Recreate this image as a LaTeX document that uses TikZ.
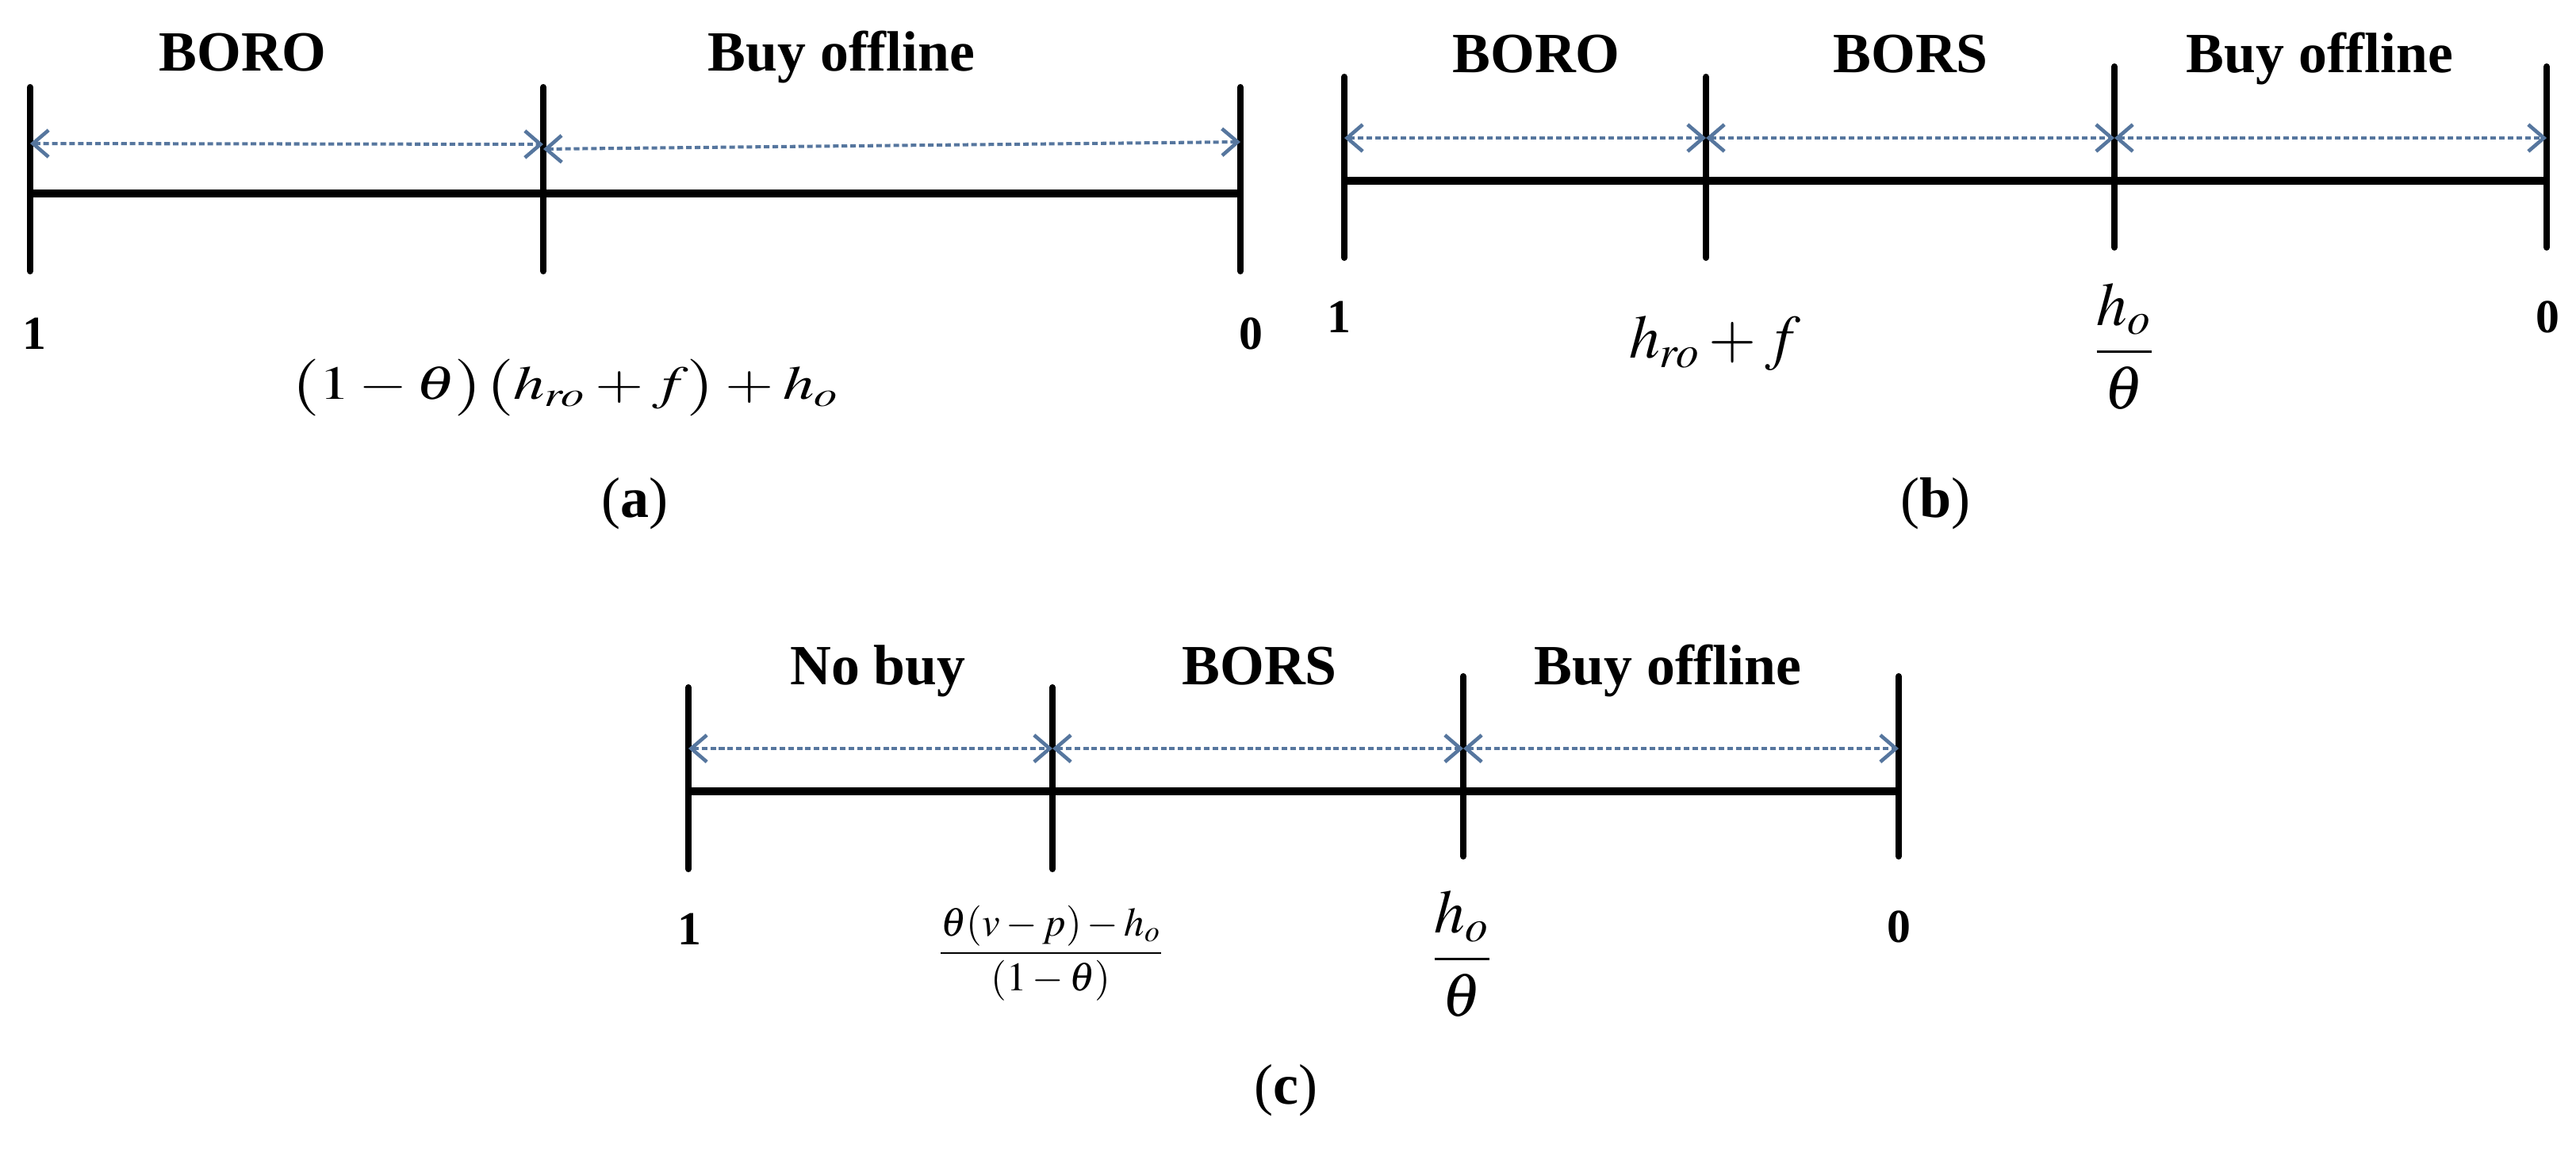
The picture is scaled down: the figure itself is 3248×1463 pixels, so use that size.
\documentclass[tikz,border=0pt]{standalone}
\usepackage{amsmath}
\usepackage{mathptmx}
\usepackage{fontspec}
\setmainfont{Liberation Serif}
\usetikzlibrary{arrows.meta}
\definecolor{spanblue}{RGB}{86,118,158}

\begin{document}
\begin{tikzpicture}[x=0.1mm,y=-0.1mm,>={Straight Barb[length=5.6pt,width=9.6pt,line width=1.3pt]},
    axis line/.style={line width=2.6pt},
    tick line/.style={line width=2.3pt,line cap=round},
    span arrow/.style={<->,spanblue,line width=1.15pt,dash pattern=on 2pt off 1.1pt},
    zone label/.style={anchor=base,font=\fontsize{20.4}{24}\selectfont\bfseries},
    end label/.style={anchor=base,font=\fontsize{17}{20}\selectfont\bfseries},
    cap label/.style={inner sep=0pt,font=\fontsize{20.5}{24}\selectfont},
    formula/.style={inner sep=0pt,font=\fontsize{22}{26}\selectfont}]
    \useasboundingbox (0,0) rectangle (3248,1463);

    \coordinate (a0) at (38,244);
    \coordinate (a1) at (685,244);
    \coordinate (a2) at (1564,244);
    \coordinate (a0s) at (38,181);
    \coordinate (a1s) at (685,182);
    \coordinate (a1t) at (685,188);
    \coordinate (a2s) at (1564,179);
    \draw[tick line] (a0) ++(0,-134) -- ++(0,232);
    \draw[tick line] (a1) ++(0,-134) -- ++(0,232);
    \draw[tick line] (a2) ++(0,-134) -- ++(0,232);
    \draw[axis line] (a0) -- (a1) -- (a2);
    \draw[span arrow] (a0s) -- (a1s);
    \draw[span arrow] (a1t) -- (a2s);
    \node[zone label] (aboro) at (306,90) {BORO};
    \node[zone label] (aoff) at (1061,90) {Buy offline};
    \node[end label] (aone) at (43,441) {1};
    \node[end label] (azero) at (1577,441) {0};
    \node[formula,font=\fontsize{17}{20}\selectfont] (aval) at (712,489) {\scalebox{1.32}[1]{$\bigl(1-\theta\bigr)\bigl(h_{ro}+f\bigr)+h_o$}};
    \node[cap label] (acap) at (800,635) {(\textbf{a})};

    \coordinate (b0) at (1695,228);
    \coordinate (b1) at (2151,228);
    \coordinate (b2) at (2666,228);
    \coordinate (b3) at (3211,228);
    \coordinate (b0s) at (1695,174);
    \coordinate (b1s) at (2151,174);
    \coordinate (b2s) at (2666,174);
    \coordinate (b3s) at (3211,174);
    \draw[tick line] (b0) ++(0,-131) -- ++(0,228);
    \draw[tick line] (b1) ++(0,-131) -- ++(0,228);
    \draw[tick line] (b2) ++(0,-144) -- ++(0,228);
    \draw[tick line] (b3) ++(0,-144) -- ++(0,228);
    \draw[axis line] (b0) -- (b1) -- (b2) -- (b3);
    \draw[span arrow] (b0s) -- (b1s);
    \draw[span arrow] (b1s) -- (b2s);
    \draw[span arrow] (b2s) -- (b3s);
    \node[zone label] (bboro) at (1937,92) {BORO};
    \node[zone label] (bbors) at (2409,92) {BORS};
    \node[zone label] (boff) at (2925,92) {Buy offline};
    \node[end label] (bone) at (1688,420) {1};
    \node[end label] (bzero) at (3212,420) {0};
    \node[formula,anchor=base] (bval) at (2162,452) {$h_{ro}+f$};
    \node[formula] (bfrac) at (2678,437) {$\dfrac{h_o}{\theta}$};
    \node[cap label] (bcap) at (2440,635) {(\textbf{b})};

    \coordinate (c0) at (868,998);
    \coordinate (c1) at (1327,998);
    \coordinate (c2) at (1845,998);
    \coordinate (c3) at (2394,998);
    \coordinate (c0s) at (868,944);
    \coordinate (c1s) at (1327,944);
    \coordinate (c2s) at (1845,944);
    \coordinate (c3s) at (2394,944);
    \draw[tick line] (c0) ++(0,-131) -- ++(0,229);
    \draw[tick line] (c1) ++(0,-131) -- ++(0,229);
    \draw[tick line] (c2) ++(0,-145) -- ++(0,227);
    \draw[tick line] (c3) ++(0,-145) -- ++(0,227);
    \draw[axis line] (c0) -- (c1) -- (c2) -- (c3);
    \draw[span arrow] (c0s) -- (c1s);
    \draw[span arrow] (c1s) -- (c2s);
    \draw[span arrow] (c2s) -- (c3s);
    \node[zone label] (cno) at (1107,863) {No buy};
    \node[zone label] (cbors) at (1588,863) {BORS};
    \node[zone label] (coff) at (2103,863) {Buy offline};
    \node[end label] (cone) at (869,1191) {1};
    \node[end label] (czero) at (2394,1188) {0};
    \node[formula,font=\fontsize{14.5}{17}\selectfont] (cval) at (1325,1202) {$\dfrac{\theta(v-p)-h_o}{(1-\theta)}$};
    \node[formula] (cfrac) at (1843,1203) {$\dfrac{h_o}{\theta}$};
    \node[cap label] (ccap) at (1621,1375) {(\textbf{c})};
\end{tikzpicture}
\end{document}
